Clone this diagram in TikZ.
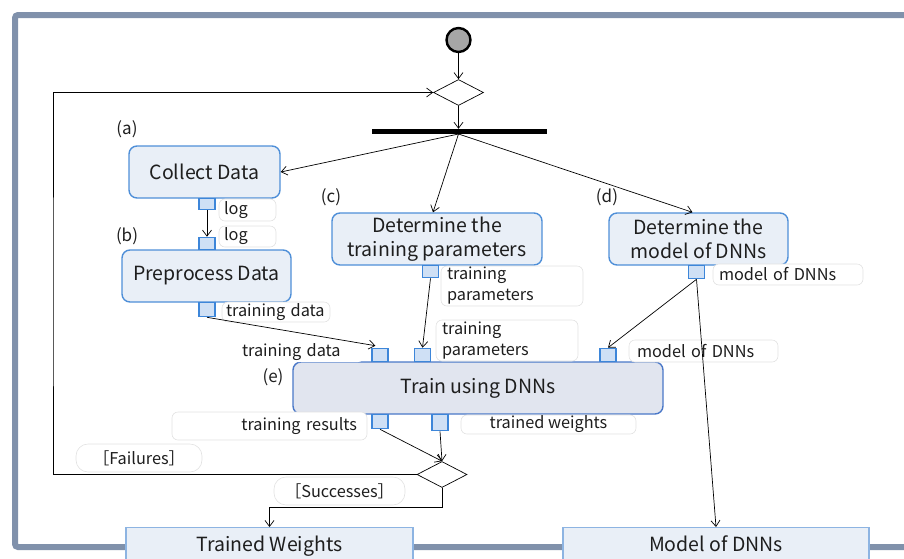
\documentclass[tikz,border=0pt]{standalone}
\usepackage{fontspec}
\setmainfont{Noto Sans CJK JP}
\usetikzlibrary{arrows.meta,shapes.geometric}

\definecolor{framec}{HTML}{8091AB}
\definecolor{actfill}{HTML}{E9EFF7}
\definecolor{actline}{HTML}{4F8FD8}
\definecolor{trfill}{HTML}{E1E5EF}
\definecolor{trline}{HTML}{4A78C8}
\definecolor{pinfill}{HTML}{CFE0F5}
\definecolor{pinline}{HTML}{3D86D9}
\definecolor{outline}{HTML}{8DB4E2}
\definecolor{lblline}{HTML}{E2E2E2}
\definecolor{txt}{HTML}{1E1E1E}

\newcommand{\fsz}[2]{\fontsize{#1}{#2}\selectfont}

\tikzset{
  act/.style={draw=actline, fill=actfill, line width=1.4pt, rounded corners=8pt,
    align=center, inner sep=0pt, text=txt, font=\fsz{19.5}{23.5}},
  pinbox/.style={draw=pinline, fill=pinfill, line width=1.3pt, inner sep=0pt,
    minimum width=16pt, minimum height=12pt},
  lbl/.style={draw=lblline, fill=white, line width=0.6pt, rounded corners=6pt,
    inner sep=0pt, text=txt, font=\fsz{16.3}{21}},
  tag/.style={text=txt, font=\fsz{17}{20}, inner sep=0pt},
  flow/.style={-{Straight Barb[length=6pt,width=9pt]}, line width=0.7pt, draw=black},
  gate/.style={diamond, draw=black, fill=white, line width=0.7pt, inner sep=0pt,
    minimum width=50pt, minimum height=26pt},
  outbox/.style={draw=outline, fill=actfill, line width=1.3pt, inner sep=0pt},
  outtext/.style={text=txt, font=\fsz{19.5}{23.5}, anchor=base, inner sep=0pt}
}

\begin{document}
\begin{tikzpicture}[x=1pt,y=-1pt]
\useasboundingbox (0,0) rectangle (904,558);

% outer frame
\draw[framec, line width=6pt, rounded corners=3pt] (15,15) rectangle (930,547);

% start, merge and fork
\node[circle, draw=black, fill=black!35, line width=2.4pt, minimum size=24pt, inner sep=0pt] (start) at (458.5,40) {};
\node[gate] (merge) at (458.5,92.5) {};
\node[fill=black, minimum width=175pt, minimum height=5pt, inner sep=0pt] (fork) at (459.5,131.5) {};
\coordinate (forkpt) at (458.5,134);

% actions
\node[act, minimum width=151pt, minimum height=52pt] (collect) at (204.5,172) {Collect Data};
\node[act, minimum width=169pt, minimum height=52pt] (prep) at (206.5,276) {Preprocess Data};
\node[act, minimum width=210pt, minimum height=52pt] (dettrain) at (437,239) {Determine the\\training parameters};
\node[act, minimum width=179pt, minimum height=52pt] (detmodel) at (698.5,239) {Determine the\\model of DNNs};
\node[act, draw=trline, fill=trfill, minimum width=370pt, minimum height=52pt] (train) at (478,388) {Train using DNNs};

% step tags
\node[tag] at (127,129) {(a)};
\node[tag] at (127,236) {(b)};
\node[tag] at (331,197) {(c)};
\node[tag] at (607,197) {(d)};
\node[tag] at (273,377) {(e)};

% pins
\node[pinbox, anchor=north, minimum height=11pt] (pa) at (207,198) {};
\node[pinbox, anchor=south] (pb) at (207,250) {};
\node[pinbox, anchor=north, minimum height=14pt] (pb2) at (207,302) {};
\node[pinbox, anchor=north] (pc) at (430.5,265) {};
\node[pinbox, anchor=north, minimum height=13pt] (pd) at (696.5,265) {};
\node[pinbox, anchor=south, minimum height=13pt] (pe1) at (380,362) {};
\node[pinbox, anchor=south, minimum height=13pt] (pe2) at (422.5,362) {};
\node[pinbox, anchor=south, minimum height=13pt] (pe3) at (608,362) {};
\node[pinbox, anchor=north, minimum height=14pt] (pe4) at (380,414) {};
\node[pinbox, anchor=north, minimum height=16pt] (pe5) at (440,414) {};

% pin labels
\node[lbl, minimum width=57pt, minimum height=22pt, text width=47pt, align=left] (llog1) at (247.5,210) {log};
\node[lbl, minimum width=57pt, minimum height=21pt, text width=47pt, align=left] (llog2) at (247.5,236.5) {log};
\node[lbl, minimum width=108pt, minimum height=20pt, text width=100pt, align=left] (ltd1) at (276,312) {training data};
\node[lbl, minimum width=142pt, minimum height=40pt, text width=130pt, align=left] (ltp1) at (512,286) {training\\parameters};
\node[lbl, minimum width=142pt, minimum height=41pt, text width=130pt, align=left] (ltp2) at (507,340.5) {training\\parameters};
\node[lbl, minimum width=150pt, minimum height=21pt, text width=138pt, align=left] (lmd1) at (788,274.5) {model of DNNs};
\node[lbl, minimum width=149pt, minimum height=22pt, text width=133pt, align=left] (lmd2) at (703.5,351) {model of DNNs};
\node[lbl, draw=none, minimum width=126pt, minimum height=20pt, text width=118pt, align=left] (ltd2) at (301,352) {training data};
\node[lbl, minimum width=195pt, minimum height=28pt, text width=175pt, align=right] (lres) at (269.5,426) {training results};
\node[lbl, minimum width=175pt, minimum height=19pt, align=center] (lwts) at (548.5,424.5) {trained weights};

% decision after training
\node[gate] (decide) at (442,474.5) {};
\node[lbl, minimum width=126pt, minimum height=28pt, rounded corners=12pt] (lfail) at (139,458) {［Failures］};
\node[lbl, minimum width=131pt, minimum height=28pt, rounded corners=12pt] (lsucc) at (339.5,491) {［Successes］};

% outputs
\node[outbox, minimum width=287pt, minimum height=48pt, anchor=north] (tw) at (269.5,527) {};
\node[outtext] at (269.5,551) {Trained Weights};
\node[outbox, minimum width=306pt, minimum height=48pt, anchor=north] (md) at (716,527) {};
\node[outtext] at (716,551) {Model of DNNs};

% control flow
\coordinate (loopx) at (53,300);
\coordinate (succy) at (300,507);
\draw[flow] (start) -- (merge);
\draw[flow] (merge.south) -- (merge.south |- fork.north);
\draw[flow] (forkpt) -- (collect.east);
\draw[flow] (forkpt) -- ([xshift=-4pt]dettrain.north);
\draw[flow] (forkpt) -- ([xshift=-6pt]detmodel.north);
\draw[flow] (decide.west) -| (loopx) |- (merge.west);
\draw[flow] (decide.south) |- (succy) -| (tw.north);

% object flow
\draw[flow] (pa.south) -- (pb.north);
\draw[flow] (pb2.south) -- ([xshift=4pt,yshift=2pt]pe1.north west);
\draw[flow] (pc.south) -- (pe2.north);
\draw[flow] (pd.south) -- (pe3.north);
\draw[flow] (pd.south) -- (md.north);
\draw[flow] (pe4.south) -- (decide.north);
\draw[flow] (pe5.south) -- (decide.north);
\end{tikzpicture}
\end{document}
